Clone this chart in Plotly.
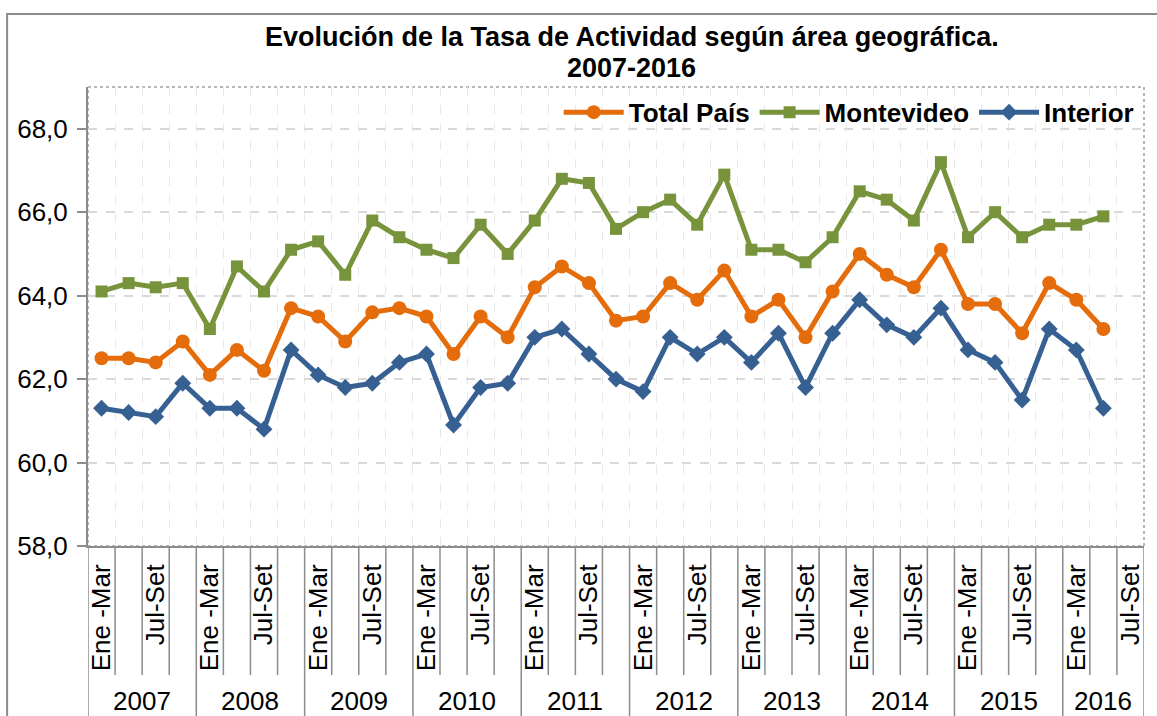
import plotly.graph_objects as go

# ---------------- data ----------------
years = [2007, 2008, 2009, 2010, 2011, 2012, 2013, 2014, 2015, 2016]
quarters = ["Ene -Mar", "Abr-Jun", "Jul-Set", "Oct-Dic"]
quarter_tick_labels = ["Ene -Mar", "", "Jul-Set", ""]  # labels actually printed
quarters_2016 = 3  # categories shown for 2016

total_pais = [62.5, 62.5, 62.4, 62.9,
              62.1, 62.7, 62.2, 63.7,
              63.5, 62.9, 63.6, 63.7,
              63.5, 62.6, 63.5, 63.0,
              64.2, 64.7, 64.3, 63.4,
              63.5, 64.3, 63.9, 64.6,
              63.5, 63.9, 63.0, 64.1,
              65.0, 64.5, 64.2, 65.1,
              63.8, 63.8, 63.1, 64.3,
              63.9, 63.2, None]
montevideo = [64.1, 64.3, 64.2, 64.3,
              63.2, 64.7, 64.1, 65.1,
              65.3, 64.5, 65.8, 65.4,
              65.1, 64.9, 65.7, 65.0,
              65.8, 66.8, 66.7, 65.6,
              66.0, 66.3, 65.7, 66.9,
              65.1, 65.1, 64.8, 65.4,
              66.5, 66.3, 65.8, 67.2,
              65.4, 66.0, 65.4, 65.7,
              65.7, 65.9, None]
interior = [61.3, 61.2, 61.1, 61.9,
            61.3, 61.3, 60.8, 62.7,
            62.1, 61.8, 61.9, 62.4,
            62.6, 60.9, 61.8, 61.9,
            63.0, 63.2, 62.6, 62.0,
            61.7, 63.0, 62.6, 63.0,
            62.4, 63.1, 61.8, 63.1,
            63.9, 63.3, 63.0, 63.7,
            62.7, 62.4, 61.5, 63.2,
            62.7, 61.3, None]

series_names = ["Total País", "Montevideo", "Interior"]
series_colors = ["#E46C0A", "#77933C", "#376092"]
series_symbols = ["circle", "square", "diamond"]
series_sizes = [14, 12, 13]

title_lines = ["Evolución de la Tasa de Actividad según área geográfica.", "2007-2016"]

# ---------------- categories ----------------
cat_year = []
cat_quarter = []
cat_label = []
for y in years:
    nq = quarters_2016 if y == 2016 else 4
    for q in range(nq):
        cat_year.append(y)
        cat_quarter.append(quarters[q])
        cat_label.append(quarter_tick_labels[q])
n = len(cat_year)
xs = list(range(n))

FONT = "Liberation Sans, Arial, sans-serif"
AXIS_GREY = "#8C8C8C"

fig = go.Figure()
for name, vals, col, sym, sz in zip(series_names, [total_pais, montevideo, interior],
                                    series_colors, series_symbols, series_sizes):
    fig.add_trace(go.Scatter(
        x=xs, y=vals, name=name, mode="lines+markers",
        line=dict(color=col, width=5),
        marker=dict(symbol=sym, size=sz, color=col),
        customdata=[f"{q} {y}" for q, y in zip(cat_quarter, cat_year)],
        hovertemplate="%{customdata}: %{y:.1f}<extra>" + name + "</extra>",
    ))

tick_idx = [i for i in xs if cat_label[i]]
boundaries = [i - 0.5 for i in range(n + 1)]
year_bounds = [i - 0.5 for i in xs if cat_quarter[i] == quarters[0]] + [n - 0.5]

shapes = []
# plot area dotted border
shapes.append(dict(type="rect", xref="paper", yref="paper", x0=0, x1=1, y0=0, y1=1,
                   line=dict(color="#A0A0A0", width=1.5, dash="dot"), layer="below"))
# outer chart border
shapes.append(dict(type="rect", xref="paper", yref="paper",
                   x0=-0.0766, x1=1.2, y0=-0.6, y1=1.159,
                   line=dict(color="#8C8C8C", width=2), layer="below"))
# category boundary ticks below the axis
for b in boundaries:
    full = b in year_bounds
    shapes.append(dict(type="line", xref="x", yref="paper", x0=b, x1=b,
                       y0=0, y1=(-0.40 if full else -0.281),
                       line=dict(color=AXIS_GREY, width=1.5)))

annotations = []
for y in years:
    idx = [i for i in xs if cat_year[i] == y]
    annotations.append(dict(x=(idx[0] + idx[-1]) / 2, y=-0.338, xref="x", yref="paper",
                            text=str(y), showarrow=False,
                            font=dict(family=FONT, size=26, color="black"),
                            xanchor="center", yanchor="middle"))
for line, ypos in zip(title_lines, [1.109, 1.041]):
    annotations.append(dict(x=0.515, y=ypos, xref="paper", yref="paper",
                            text=f"<b>{line}</b>", showarrow=False,
                            font=dict(family=FONT, size=27, color="black"),
                            xanchor="center", yanchor="middle"))

fig.update_layout(
    width=1157, height=716,
    margin=dict(l=88, r=13, t=87, b=170, autoexpand=False),
    paper_bgcolor="white", plot_bgcolor="white",
    separators=",.",
    font=dict(family=FONT, size=26, color="black"),
    showlegend=True,
    legend=dict(orientation="h", x=0.995, xanchor="right", y=0.945, yanchor="middle",
                bgcolor="rgba(0,0,0,0)", font=dict(family=FONT, size=26, color="black", weight="bold"),
                itemwidth=60, traceorder="normal"),
    xaxis=dict(range=[-0.5, n - 0.5], tickmode="array", tickvals=tick_idx,
               ticktext=[cat_label[i] for i in tick_idx], tickangle=-90,
               ticks="outside", ticklen=6, tickcolor="rgba(0,0,0,0)",
               tickfont=dict(family=FONT, size=26, color="black"),
               showline=True, linecolor=AXIS_GREY, linewidth=2,
               showgrid=False, zeroline=False, automargin=False,
               minor=dict(tickmode="array", tickvals=boundaries[1:-1], showgrid=True,
                          gridcolor="#E8E8E8", gridwidth=1, griddash="dash", ticks="")),
    yaxis=dict(range=[58, 69], tickmode="array", tickvals=[58, 60, 62, 64, 66, 68],
               tickformat=".1f", ticks="outside", ticklen=9, tickcolor=AXIS_GREY, tickwidth=2,
               tickfont=dict(family=FONT, size=26, color="black"), ticklabelstandoff=4,
               showline=True, linecolor=AXIS_GREY, linewidth=2,
               showgrid=True, gridcolor="#D9D9D9", gridwidth=1.5, griddash="dash",
               zeroline=False, automargin=False),
    shapes=shapes,
    annotations=annotations,
)

fig.write_html("out.html", config={"displayModeBar": False},
               post_script="document.body.style.margin='0';document.body.style.overflow='hidden';")
